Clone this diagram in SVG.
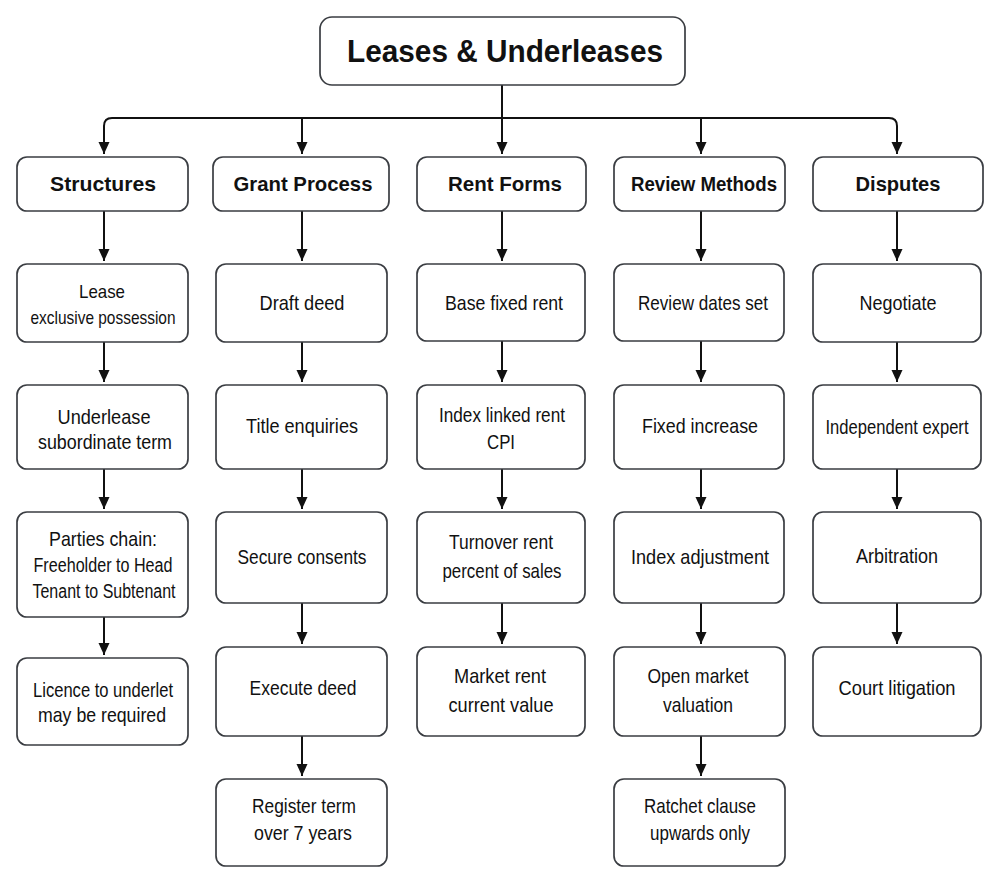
<svg xmlns="http://www.w3.org/2000/svg" width="1001" height="883" viewBox="0 0 1001 883">
<style>
.box{fill:#fff;stroke:#3a3d42;stroke-width:1.7}
.t{font-family:"Liberation Sans",Arial,sans-serif;font-size:21px;fill:#111;text-anchor:middle}
.h{font-family:"Liberation Sans",Arial,sans-serif;font-size:21px;font-weight:bold;fill:#111;text-anchor:middle}
.title{font-family:"Liberation Sans",Arial,sans-serif;font-size:31px;font-weight:bold;fill:#111;text-anchor:middle}
.c{fill:none;stroke:#111;stroke-width:2}
</style>
<defs>
<marker id="arr" markerUnits="userSpaceOnUse" markerWidth="13" markerHeight="12" refX="12" refY="6" orient="auto" viewBox="0 0 13 12">
<path d="M0,0.5 L12,6 L0,11.5 Z" fill="#111"/>
</marker>
</defs>
<rect width="1001" height="883" fill="#fff"/>

<g id="connectors">
<path class="c" d="M502,85 V154" marker-end="url(#arr)"/>
<path class="c" d="M104,154 V126 Q104,118 112,118 H889 Q897,118 897,126 V154" marker-end="url(#arr)"/>
<path class="c" d="M104,140 V154" marker-end="url(#arr)"/>
<path class="c" d="M302,118 V154" marker-end="url(#arr)"/>
<path class="c" d="M701,118 V154" marker-end="url(#arr)"/>
<path class="c" d="M104,211 V261" marker-end="url(#arr)"/>
<path class="c" d="M104,342 V382" marker-end="url(#arr)"/>
<path class="c" d="M104,469 V509" marker-end="url(#arr)"/>
<path class="c" d="M104,617 V655" marker-end="url(#arr)"/>
<path class="c" d="M302,211 V261" marker-end="url(#arr)"/>
<path class="c" d="M302,342 V382" marker-end="url(#arr)"/>
<path class="c" d="M302,469 V509" marker-end="url(#arr)"/>
<path class="c" d="M302,603 V644" marker-end="url(#arr)"/>
<path class="c" d="M302,736 V776" marker-end="url(#arr)"/>
<path class="c" d="M502,211 V261" marker-end="url(#arr)"/>
<path class="c" d="M502,341 V382" marker-end="url(#arr)"/>
<path class="c" d="M502,469 V509" marker-end="url(#arr)"/>
<path class="c" d="M502,603 V644" marker-end="url(#arr)"/>
<path class="c" d="M701,211 V261" marker-end="url(#arr)"/>
<path class="c" d="M701,341 V382" marker-end="url(#arr)"/>
<path class="c" d="M701,469 V509" marker-end="url(#arr)"/>
<path class="c" d="M701,603 V644" marker-end="url(#arr)"/>
<path class="c" d="M701,736 V776" marker-end="url(#arr)"/>
<path class="c" d="M897,211 V261" marker-end="url(#arr)"/>
<path class="c" d="M897,342 V382" marker-end="url(#arr)"/>
<path class="c" d="M897,469 V509" marker-end="url(#arr)"/>
<path class="c" d="M897,603 V644" marker-end="url(#arr)"/>
</g>

<g id="root"><rect class="box" x="320" y="17" width="365" height="68" rx="12"/><text class="title" x="505" y="62" textLength="316" lengthAdjust="spacingAndGlyphs">Leases &amp; Underleases</text></g>

<g id="h-structures"><rect class="box" x="17" y="157" width="171" height="54" rx="10"/><text class="h" x="103" y="191" textLength="106" lengthAdjust="spacingAndGlyphs">Structures</text></g>
<g id="h-grant"><rect class="box" x="213" y="157" width="176" height="54" rx="10"/><text class="h" x="303" y="191" textLength="139" lengthAdjust="spacingAndGlyphs">Grant Process</text></g>
<g id="h-rent"><rect class="box" x="417" y="157" width="169" height="54" rx="10"/><text class="h" x="505" y="191" textLength="114" lengthAdjust="spacingAndGlyphs">Rent Forms</text></g>
<g id="h-review"><rect class="box" x="614" y="157" width="171" height="54" rx="10"/><text class="h" x="704" y="191" textLength="146" lengthAdjust="spacingAndGlyphs">Review Methods</text></g>
<g id="h-disputes"><rect class="box" x="813" y="157" width="170" height="54" rx="10"/><text class="h" x="898" y="191" textLength="85" lengthAdjust="spacingAndGlyphs">Disputes</text></g>

<g id="n-lease"><rect class="box" x="17" y="264" width="171" height="78" rx="10"/><text class="t" x="102" y="298" style="font-size:19px" textLength="46" lengthAdjust="spacingAndGlyphs">Lease</text><text class="t" x="103" y="324" style="font-size:19px" textLength="145" lengthAdjust="spacingAndGlyphs">exclusive possession</text></g>
<g id="n-underlease"><rect class="box" x="17" y="385" width="171" height="84" rx="10"/><text class="t" x="104" y="424" textLength="93" lengthAdjust="spacingAndGlyphs">Underlease</text><text class="t" x="105" y="449" textLength="134" lengthAdjust="spacingAndGlyphs">subordinate term</text></g>
<g id="n-parties"><rect class="box" x="17" y="512" width="171" height="105" rx="10"/><text class="t" x="103" y="546" textLength="108" lengthAdjust="spacingAndGlyphs">Parties chain:</text><text class="t" x="103" y="572" style="font-size:20px" textLength="139" lengthAdjust="spacingAndGlyphs">Freeholder to Head</text><text class="t" x="104" y="598" style="font-size:20px" textLength="143" lengthAdjust="spacingAndGlyphs">Tenant to Subtenant</text></g>
<g id="n-licence"><rect class="box" x="17" y="658" width="171" height="87" rx="10"/><text class="t" x="103" y="697" textLength="140" lengthAdjust="spacingAndGlyphs">Licence to underlet</text><text class="t" x="102" y="722" textLength="128" lengthAdjust="spacingAndGlyphs">may be required</text></g>

<g id="n-draft"><rect class="box" x="216" y="264" width="171" height="78" rx="10"/><text class="t" x="302" y="310" textLength="85" lengthAdjust="spacingAndGlyphs">Draft deed</text></g>
<g id="n-title"><rect class="box" x="216" y="385" width="171" height="84" rx="10"/><text class="t" x="302" y="433" textLength="112" lengthAdjust="spacingAndGlyphs">Title enquiries</text></g>
<g id="n-consents"><rect class="box" x="216" y="512" width="171" height="91" rx="10"/><text class="t" x="302" y="564" textLength="129" lengthAdjust="spacingAndGlyphs">Secure consents</text></g>
<g id="n-execute"><rect class="box" x="216" y="647" width="171" height="89" rx="10"/><text class="t" x="303" y="695" textLength="107" lengthAdjust="spacingAndGlyphs">Execute deed</text></g>
<g id="n-register"><rect class="box" x="216" y="779" width="171" height="87" rx="10"/><text class="t" x="304" y="813" textLength="104" lengthAdjust="spacingAndGlyphs">Register term</text><text class="t" x="303" y="840" textLength="98" lengthAdjust="spacingAndGlyphs">over 7 years</text></g>

<g id="n-base"><rect class="box" x="417" y="264" width="168" height="77" rx="10"/><text class="t" x="504" y="310" textLength="118" lengthAdjust="spacingAndGlyphs">Base fixed rent</text></g>
<g id="n-index"><rect class="box" x="417" y="385" width="168" height="84" rx="10"/><text class="t" x="502" y="422" textLength="126" lengthAdjust="spacingAndGlyphs">Index linked rent</text><text class="t" x="501" y="449" textLength="28" lengthAdjust="spacingAndGlyphs">CPI</text></g>
<g id="n-turnover"><rect class="box" x="417" y="512" width="168" height="91" rx="10"/><text class="t" x="501" y="549" textLength="104" lengthAdjust="spacingAndGlyphs">Turnover rent</text><text class="t" x="502" y="578" textLength="119" lengthAdjust="spacingAndGlyphs">percent of sales</text></g>
<g id="n-market"><rect class="box" x="417" y="647" width="168" height="89" rx="10"/><text class="t" x="500" y="683" textLength="92" lengthAdjust="spacingAndGlyphs">Market rent</text><text class="t" x="501" y="712" textLength="105" lengthAdjust="spacingAndGlyphs">current value</text></g>

<g id="n-dates"><rect class="box" x="614" y="264" width="170" height="77" rx="10"/><text class="t" x="703" y="310" textLength="130" lengthAdjust="spacingAndGlyphs">Review dates set</text></g>
<g id="n-fixed"><rect class="box" x="614" y="385" width="170" height="84" rx="10"/><text class="t" x="700" y="433" textLength="116" lengthAdjust="spacingAndGlyphs">Fixed increase</text></g>
<g id="n-indexadj"><rect class="box" x="614" y="512" width="170" height="91" rx="10"/><text class="t" x="700" y="564" textLength="138" lengthAdjust="spacingAndGlyphs">Index adjustment</text></g>
<g id="n-open"><rect class="box" x="614" y="647" width="171" height="89" rx="10"/><text class="t" x="698" y="683" textLength="101" lengthAdjust="spacingAndGlyphs">Open market</text><text class="t" x="698" y="712" textLength="70" lengthAdjust="spacingAndGlyphs">valuation</text></g>
<g id="n-ratchet"><rect class="box" x="614" y="779" width="171" height="87" rx="10"/><text class="t" x="700" y="813" textLength="112" lengthAdjust="spacingAndGlyphs">Ratchet clause</text><text class="t" x="700" y="840" textLength="100" lengthAdjust="spacingAndGlyphs">upwards only</text></g>

<g id="n-negotiate"><rect class="box" x="813" y="264" width="168" height="78" rx="10"/><text class="t" x="898" y="310" textLength="77" lengthAdjust="spacingAndGlyphs">Negotiate</text></g>
<g id="n-expert"><rect class="box" x="813" y="385" width="168" height="84" rx="10"/><text class="t" x="897" y="434" textLength="143" lengthAdjust="spacingAndGlyphs">Independent expert</text></g>
<g id="n-arbitration"><rect class="box" x="813" y="512" width="168" height="91" rx="10"/><text class="t" x="897" y="563" textLength="82" lengthAdjust="spacingAndGlyphs">Arbitration</text></g>
<g id="n-court"><rect class="box" x="813" y="647" width="168" height="89" rx="10"/><text class="t" x="897" y="695" textLength="117" lengthAdjust="spacingAndGlyphs">Court litigation</text></g>
</svg>
